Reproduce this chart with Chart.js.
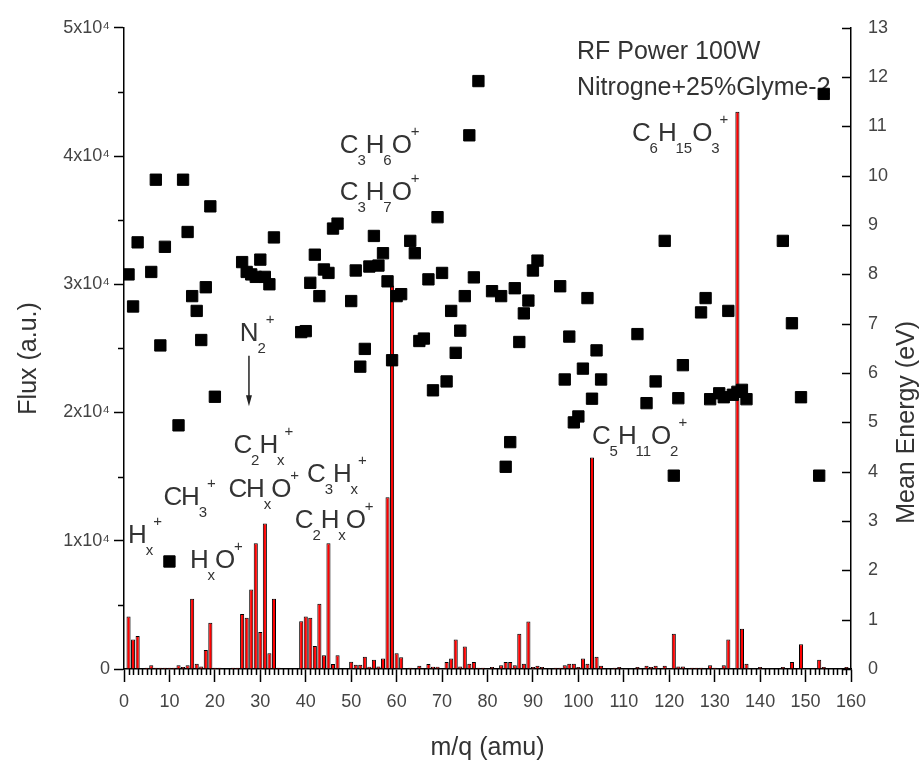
<!DOCTYPE html>
<html>
<head>
<meta charset="utf-8">
<script src="https://cdn.jsdelivr.net/npm/chart.js@4.4.1/dist/chart.umd.min.js"></script>
<style>
  html, body { margin: 0; padding: 0; background: #fff; }
  #wrap { width: 920px; height: 764px; position: relative; }
</style>
</head>
<body>
<div id="wrap"><canvas id="c"></canvas></div>
<script>
// Ion flux spectrum (bars, left axis) and mean ion energy (squares, right axis)
const barMass = [1,2,3,5,6,7,8,9,10,11,12,13,14,15,16,17,18,19,20,21,24,25,26,27,28,29,30,31,32,33,34,39,40,41,42,43,44,45,46,47,50,51,52,53,54,55,56,57,58,59,60,61,63,65,67,68,69,71,72,73,74,75,76,77,78,79,81,83,84,85,86,87,88,89,90,91,92,95,96,97,98,99,100,101,102,103,104,105,108,109,113,115,116,117,119,121,122,123,125,126,127,129,130,132,133,135,136,137,140,145,147,149,153,154,159];
const barFlux = [4090,2300,2570,100,300,100,100,100,100,100,300,150,300,5470,400,200,1490,3600,100,100,100,100,4290,3990,6200,9800,2880,11350,1230,5470,100,3730,4100,3990,1800,5090,1080,9800,385,1080,570,330,330,950,180,720,200,820,13400,29900,1230,925,100,250,390,180,180,550,820,2310,200,1750,400,550,100,100,150,300,550,550,300,2750,400,3700,150,250,150,100,100,300,400,400,150,820,400,16500,950,250,100,150,150,250,150,250,250,2750,200,200,100,100,100,300,100,300,2310,43450,3130,400,150,150,550,1930,720,150,150];

const energyMass = [1,2,3,6,7,8,9,10,12,13,14,15,16,17,18,19,20,26,27,28,29,30,31,32,33,39,40,41,42,43,44,45,46,47,50,51,52,53,54,55,56,57,58,59,60,61,63,64,65,66,67,68,69,70,71,72,73,74,75,76,77,78,81,83,84,85,86,87,88,89,90,91,96,97,98,99,100,101,102,103,104,105,113,115,117,119,121,122,123,127,128,129,131,132,133,134,135,136,137,145,147,149,153,154];
const energyValue = [8.0,7.35,8.65,8.05,9.92,6.56,8.56,2.18,4.94,9.92,8.86,7.56,7.26,6.67,7.74,9.38,5.52,8.25,8.05,8.0,7.95,8.3,7.95,7.8,8.75,6.83,6.85,7.83,8.4,7.56,8.1,8.03,8.93,9.03,7.46,8.08,6.13,6.49,8.16,8.78,8.18,8.43,7.86,6.26,7.56,7.6,8.68,8.43,6.65,6.7,7.9,5.65,9.16,8.03,5.83,7.26,6.41,6.86,7.56,10.82,7.94,11.92,7.66,7.56,4.1,4.6,7.72,6.63,7.21,7.47,8.08,8.28,7.76,5.87,6.74,5.0,5.12,6.09,7.52,5.48,6.46,5.87,6.79,5.39,5.83,8.68,3.92,5.49,6.16,7.23,7.52,5.47,5.59,5.51,7.26,5.56,5.62,5.66,5.47,8.68,7.01,5.51,3.92,11.66];

const fluxTicks = [0, 10000, 20000, 30000, 40000, 50000];
const fluxTickLabels = ['0', '1x10\u2074', '2x10\u2074', '3x10\u2074', '4x10\u2074', '5x10\u2074'];

// Text notes, anchored in data units: [m/q, flux, text]  (_{..} subscript, ^{..} superscript)
const infoLines = [
  [99.7, 47530, 'RF Power 100W'],
  [99.7, 44760, 'Nitrogne+25%Glyme-2']
];
const ionLabels = [
  [47.5, 40240, 'C_{3}H_{6}O^{+}'],
  [47.5, 36600, 'C_{3}H_{7}O^{+}'],
  [111.8, 41140, 'C_{6}H_{15}O_{3}^{+}'],
  [103.0, 17510, 'C_{5}H_{11}O_{2}^{+}'],
  [25.5, 25600, 'N_{2}^{+}'],
  [24.1, 16870, 'C_{2}H_{x}^{+}'],
  [8.7, 12770, 'CH_{3}^{+}'],
  [23.0, 13400, 'CH_{x}O^{+}'],
  [40.3, 14560, 'C_{3}H_{x}^{+}'],
  [37.6, 10960, 'C_{2}H_{x}O^{+}'],
  [0.9, 9810, 'H_{x}^{+}'],
  [14.5, 7880, 'H_{x}O^{+}']
];
// arrow from the N2+ note down to its peak group: [m/q, flux from, flux to]
const noteArrow = [27.5, 24420, 20490];

const FONT = "'Liberation Sans', Arial, sans-serif";
const TEXT = '#333';
const TICKTEXT = '#444';

function parseFormula(s) {
  const out = [];
  let i = 0;
  while (i < s.length) {
    const c = s[i];
    if ((c === '_' || c === '^') && s[i + 1] === '{') {
      const end = s.indexOf('}', i);
      out.push({ t: s.slice(i + 2, end), k: c === '_' ? 'sub' : 'sup' });
      i = end + 1;
    } else {
      out.push({ t: c, k: 'n' });
      i++;
    }
  }
  return out;
}

function drawFormula(ctx, s, x, y) {
  let cx = x;
  ctx.textBaseline = 'alphabetic';
  ctx.textAlign = 'left';
  for (const seg of parseFormula(s)) {
    if (seg.k === 'n') {
      ctx.font = '26px ' + FONT;
      ctx.fillText(seg.t, cx, y);
      cx += ctx.measureText(seg.t).width - 1.2;
    } else if (seg.k === 'sub') {
      ctx.font = '15px ' + FONT;
      ctx.fillText(seg.t, cx, y + 12);
      cx += ctx.measureText(seg.t).width;
    } else {
      ctx.font = '15px ' + FONT;
      ctx.fillText(seg.t, cx, y - 17);
      cx += ctx.measureText(seg.t).width;
    }
  }
}

const notesPlugin = {
  id: 'notes',
  beforeDatasetsDraw(chart) {
    const { ctx, scales: { x, y } } = chart;
    ctx.save();
    ctx.fillStyle = TEXT;
    ctx.textBaseline = 'alphabetic';
    ctx.textAlign = 'left';
    ctx.font = '25px ' + FONT;
    for (const [m, f, t] of infoLines) {
      ctx.fillText(t, x.getPixelForValue(m), y.getPixelForValue(f));
    }
    for (const [m, f, t] of ionLabels) {
      drawFormula(ctx, t, x.getPixelForValue(m), y.getPixelForValue(f));
    }
    // arrow
    const ax = x.getPixelForValue(noteArrow[0]);
    const ay1 = y.getPixelForValue(noteArrow[1]);
    const ay2 = y.getPixelForValue(noteArrow[2]);
    ctx.strokeStyle = '#222';
    ctx.fillStyle = '#222';
    ctx.lineWidth = 1.5;
    ctx.beginPath();
    ctx.moveTo(ax, ay1);
    ctx.lineTo(ax, ay2 - 8);
    ctx.stroke();
    ctx.beginPath();
    ctx.moveTo(ax, ay2);
    ctx.lineTo(ax - 3, ay2 - 11);
    ctx.lineTo(ax + 3, ay2 - 11);
    ctx.closePath();
    ctx.fill();
    ctx.restore();
  },
  afterDraw(chart) {
    const { ctx, chartArea: a, scales: { x, y, y2 } } = chart;
    ctx.save();
    ctx.strokeStyle = '#000';
    ctx.lineWidth = 1.5;
    ctx.beginPath();
    // minor m/q ticks every 1 amu
    for (let m = x.min; m <= x.max; m++) {
      if (m % 10 === 0) continue;
      const px = Math.round(x.getPixelForValue(m)) + 0.5;
      ctx.moveTo(px, a.bottom);
      ctx.lineTo(px, a.bottom + 6);
    }
    // minor flux ticks
    for (let f = 5000; f < y.max; f += 10000) {
      const py = Math.round(y.getPixelForValue(f)) + 0.5;
      ctx.moveTo(a.left, py);
      ctx.lineTo(a.left - 6, py);
    }
    // energy ticks, pointing into the plot
    for (let e = y2.min; e <= y2.max; e++) {
      const py = Math.round(y2.getPixelForValue(e)) + 0.5;
      ctx.moveTo(a.right, py);
      ctx.lineTo(a.right - 9, py);
    }
    ctx.stroke();

    // axis titles
    ctx.fillStyle = TEXT;
    ctx.font = '25px ' + FONT;
    ctx.textAlign = 'center';
    ctx.textBaseline = 'middle';
    ctx.fillText('m/q (amu)', (a.left + a.right) / 2, 748);
    ctx.save();
    ctx.translate(29, (a.top + a.bottom) / 2 + 10);
    ctx.rotate(-Math.PI / 2);
    ctx.fillText('Flux (a.u.)', 0, 0);
    ctx.restore();
    ctx.save();
    ctx.translate(907, (a.top + a.bottom) / 2 + 74);
    ctx.rotate(-Math.PI / 2);
    ctx.fillText('Mean Energy (eV)', 0, 0);
    ctx.restore();
    ctx.restore();
  }
};

const fluxData = barMass.map((m, i) => ({ x: m, y: barFlux[i] }));
const energyData = energyMass.map((m, i) => ({ x: m, y: energyValue[i] }));

new Chart(document.getElementById('c'), {
  type: 'bar',
  data: {
    datasets: [
      {
        type: 'bar',
        label: 'Flux',
        data: fluxData,
        yAxisID: 'y',
        backgroundColor: '#ff0000',
        borderColor: '#000',
        borderWidth: 1,
        barPercentage: 1.0,
        categoryPercentage: 0.9,
        order: 2
      },
      {
        type: 'scatter',
        label: 'Mean Energy',
        data: energyData,
        yAxisID: 'y2',
        pointStyle: 'rect',
        pointRadius: 8,
        pointHoverRadius: 8,
        backgroundColor: '#000',
        borderColor: '#000',
        borderWidth: 1,
        showLine: false,
        order: 1
      }
    ]
  },
  options: {
    responsive: true,
    maintainAspectRatio: false,
    animation: false,
    devicePixelRatio: 1,
    layout: { padding: { top: 20, left: 0, right: 0, bottom: 0 } },
    plugins: { legend: { display: false }, tooltip: { enabled: false } },
    scales: {
      x: {
        type: 'linear',
        position: 'bottom',
        min: 0,
        max: 160,
        offset: false,
        afterFit(s) { s.height = 95; },
        ticks: {
          stepSize: 10,
          autoSkip: false,
          maxRotation: 0,
          padding: 9,
          color: TICKTEXT,
          font: { family: FONT, size: 18 }
        },
        grid: { drawOnChartArea: false, offset: false, tickLength: 13, tickColor: '#000', tickWidth: 1.5 },
        border: { color: '#000', width: 1.5 }
      },
      y: {
        type: 'linear',
        position: 'left',
        min: 0,
        max: 50000,
        afterFit(s) { s.width = 124; },
        afterBuildTicks(s) { s.ticks = fluxTicks.map(v => ({ value: v })); },
        ticks: {
          padding: 4,
          color: TICKTEXT,
          font: { family: FONT, size: 18 },
          callback(v) { const i = fluxTicks.indexOf(v); return i >= 0 ? fluxTickLabels[i] : ''; }
        },
        grid: { drawOnChartArea: false, tickLength: 10, tickColor: '#000', tickWidth: 1.5 },
        border: { color: '#000', width: 1.5 }
      },
      y2: {
        type: 'linear',
        position: 'right',
        min: 0,
        max: 13,
        afterFit(s) { s.width = 69; },
        ticks: {
          stepSize: 1,
          padding: 17,
          color: TICKTEXT,
          font: { family: FONT, size: 18 }
        },
        grid: { drawOnChartArea: false, drawTicks: false },
        border: { color: '#000', width: 1.5 }
      }
    }
  },
  plugins: [notesPlugin]
});
</script>
</body>
</html>
